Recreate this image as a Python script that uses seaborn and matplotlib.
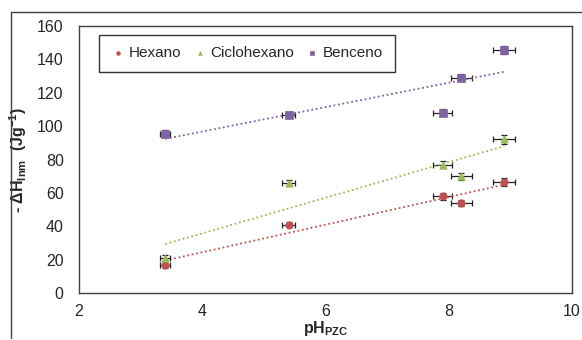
import numpy as np
import pandas as pd
import matplotlib
matplotlib.use("Agg")
import matplotlib.pyplot as plt
import seaborn as sns
from matplotlib.lines import Line2D

sns.set_style("white")
plt.rcParams['font.family'] = ['Liberation Sans', 'DejaVu Sans']
plt.rcParams['mathtext.fontset'] = 'custom'
plt.rcParams['mathtext.rm'] = 'Liberation Sans'
plt.rcParams['mathtext.bf'] = 'Liberation Sans:bold'
plt.rcParams['mathtext.it'] = 'Liberation Sans:italic'

ph = [3.4, 5.4, 7.9, 8.2, 8.9]
ph_err = [0.08, 0.1, 0.16, 0.17, 0.18]
hexano = [16.7, 41, 58, 54, 66.5]
ciclohexano = [21, 66, 77, 70, 92]
benceno = [95.5, 106.7, 108, 129, 145.5]
y_err = [2, 1.5, 2, 2, 2.5]
series_names = ["Hexano", "Ciclohexano", "Benceno"]
colors = ["#C0504D", "#9BBB59", "#8064A2"]
markers = ["o", "^", "s"]

df = pd.DataFrame({
    "ph": ph * 3,
    "val": hexano + ciclohexano + benceno,
    "serie": sum([[n] * len(ph) for n in series_names], []),
})

fig = plt.figure(figsize=(5.82, 3.40), dpi=100)
ax = fig.add_axes([79/582, 1 - 293/340, (572-79)/582, (293-26)/340])

for name, col, mk, vals in zip(series_names, colors, markers, [hexano, ciclohexano, benceno]):
    ax.errorbar(ph, vals, xerr=ph_err, yerr=y_err, fmt='none', ecolor='#222222',
                elinewidth=0.9, capsize=2.5, capthick=0.9, zorder=2)
    sub = df[df.serie == name]
    sns.regplot(data=sub, x="ph", y="val", ax=ax, scatter=False, ci=None, truncate=True,
                line_kws=dict(color=col, lw=1.3, ls=(0, (1, 1.5))))
    sns.scatterplot(data=sub, x="ph", y="val", ax=ax, color=col, marker=mk, s=28,
                    edgecolor=col, linewidth=0.5, label=name, zorder=3)

ax.set_xlim(2, 10)
ax.set_ylim(0, 160)
ax.set_xticks([2, 4, 6, 8, 10])
ax.set_yticks(range(0, 161, 20))
ax.tick_params(axis='y', labelsize=11.5, length=0, pad=11)
ax.tick_params(axis='x', labelsize=11.5, length=0, pad=8)
ax.set_xlabel(r'pH$_{\mathbf{PZC}}$', fontsize=11.5, fontweight='bold', labelpad=0)
ax.set_ylabel(r'- $\mathbf{\Delta}$H$_{\mathbf{Inm}}$  (Jg$^{\mathbf{-1}}$)', fontsize=11.5,
              fontweight='bold', labelpad=6)
for s in ax.spines.values():
    s.set_color('#404040')
    s.set_linewidth(1.0)

leg = ax.legend(loc='upper left', bbox_to_anchor=(20/493, 1 - 9/267), borderaxespad=0,
                ncol=3, fontsize=11, frameon=True, fancybox=False, edgecolor='black',
                handletextpad=0.2, columnspacing=0.7, markerscale=0.5, borderpad=0.75,
                handlelength=1.0)
leg.get_frame().set_linewidth(1.0)

# outer chart-area frame (only left and top edges visible)
fig.add_artist(Line2D([11/582, 11/582, 1.0], [2/340, 1 - 12/340, 1 - 12/340],
                      transform=fig.transFigure, color='#404040', lw=1.0))

fig.savefig("out.png", dpi=100)
